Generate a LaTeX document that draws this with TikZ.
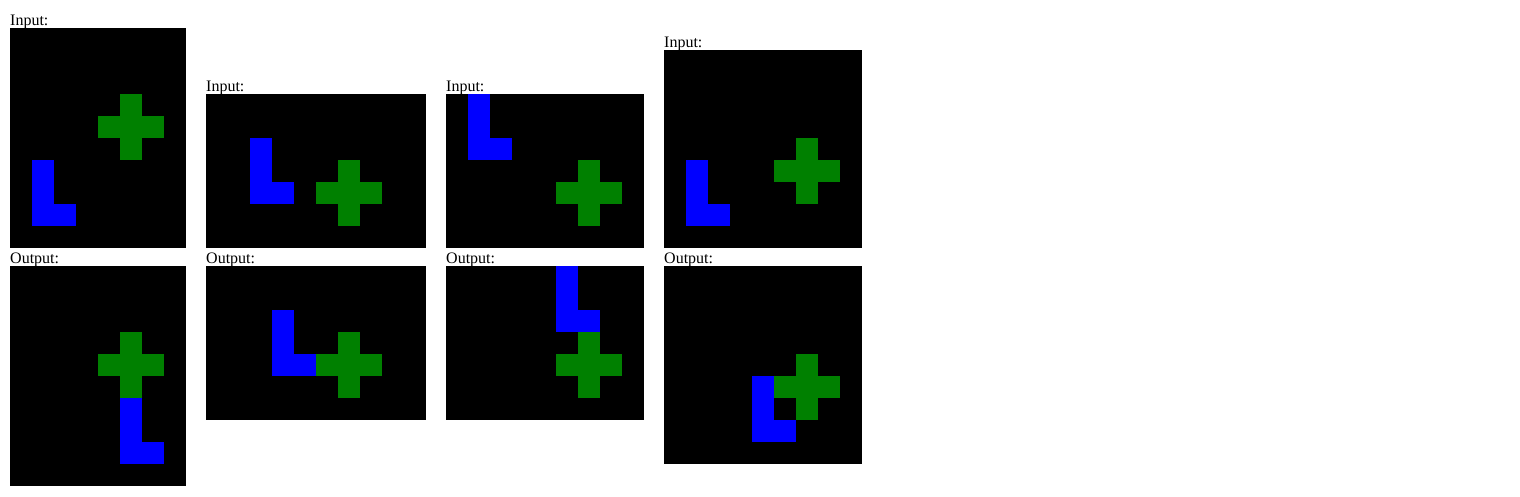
\documentclass[tikz,border=0pt]{standalone}
\usepackage{fontspec}
\setmainfont{Liberation Serif}
\definecolor{arcblue}{RGB}{0,0,255}
\definecolor{arcgreen}{RGB}{0,128,0}
\newcommand\drawplus[2]{%
  \fill[arcgreen] ({22*#1},{22*(#2-1)}) rectangle ++(22,66);
  \fill[arcgreen] ({22*(#1-1)},{22*#2}) rectangle ++(66,22);}
\newcommand\drawell[2]{%
  \fill[arcblue] ({22*#1},{22*#2}) rectangle ++(22,66);
  \fill[arcblue] ({22*#1},{22*(#2+2)}) rectangle ++(44,22);}
\tikzset{
  gridbox/.style={fill=black, inner sep=0pt, outer sep=0pt, anchor=north west},
  lbl/.style={anchor=base west, inner sep=0pt, font=\fontsize{16}{19}\selectfont}
}
\begin{document}
\begin{tikzpicture}[x=1pt,y=-1pt]
\useasboundingbox[fill=white] (0,0) rectangle (1520,496);
% grid 1
\node[lbl] (l1i) at (10,25) {Input:};
\node[gridbox, minimum width=176pt, minimum height=220pt] (g1i) at (10,28) {};
\begin{scope}[shift={(10,28)}]\drawplus{5}{4}\drawell{1}{6}\end{scope}
\node[lbl] (l1o) at (10,263) {Output:};
\node[gridbox, minimum width=176pt, minimum height=220pt] (g1o) at (10,266) {};
\begin{scope}[shift={(10,266)}]\drawplus{5}{4}\drawell{5}{6}\end{scope}
% grid 2
\node[lbl] (l2i) at (206,91) {Input:};
\node[gridbox, minimum width=220pt, minimum height=154pt] (g2i) at (206,94) {};
\begin{scope}[shift={(206,94)}]\drawplus{6}{4}\drawell{2}{2}\end{scope}
\node[lbl] (l2o) at (206,263) {Output:};
\node[gridbox, minimum width=220pt, minimum height=154pt] (g2o) at (206,266) {};
\begin{scope}[shift={(206,266)}]\drawplus{6}{4}\drawell{3}{2}\end{scope}
% grid 3
\node[lbl] (l3i) at (446,91) {Input:};
\node[gridbox, minimum width=198pt, minimum height=154pt] (g3i) at (446,94) {};
\begin{scope}[shift={(446,94)}]\drawplus{6}{4}\drawell{1}{0}\end{scope}
\node[lbl] (l3o) at (446,263) {Output:};
\node[gridbox, minimum width=198pt, minimum height=154pt] (g3o) at (446,266) {};
\begin{scope}[shift={(446,266)}]\drawplus{6}{4}\drawell{5}{0}\end{scope}
% grid 4
\node[lbl] (l4i) at (664,47) {Input:};
\node[gridbox, minimum width=198pt, minimum height=198pt] (g4i) at (664,50) {};
\begin{scope}[shift={(664,50)}]\drawplus{6}{5}\drawell{1}{5}\end{scope}
\node[lbl] (l4o) at (664,263) {Output:};
\node[gridbox, minimum width=198pt, minimum height=198pt] (g4o) at (664,266) {};
\begin{scope}[shift={(664,266)}]\drawplus{6}{5}\drawell{4}{5}\end{scope}
\end{tikzpicture}
\end{document}
